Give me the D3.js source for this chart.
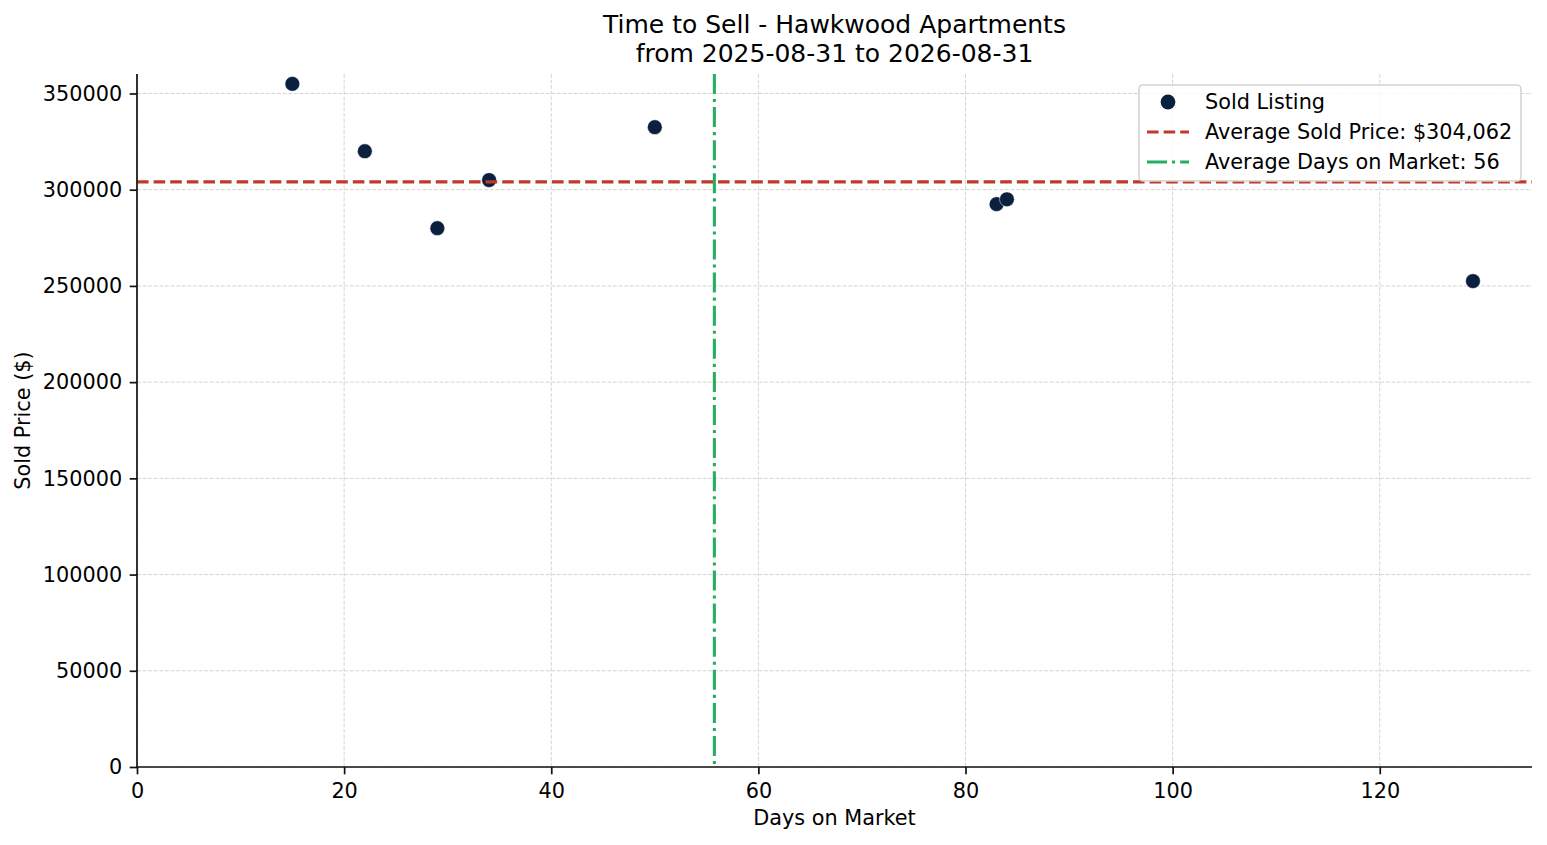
<!DOCTYPE html>
<html>
<head>
<meta charset="utf-8">
<script src="https://cdn.jsdelivr.net/npm/d3@7"></script>
<style>
  body { margin: 0; background: #fff; }
  svg { font-family: "DejaVu Sans", sans-serif; }
</style>
</head>
<body>
<div id="chart"></div>
<script>
// Sold listings: days on market and sold price
const days = [15, 22, 29, 34, 50, 83, 84, 129];
const prices = [355000, 320000, 280000, 305000, 332500, 292500, 295000, 252500];
const xTicks = [0, 20, 40, 60, 80, 100, 120];
const yTicks = [0, 50000, 100000, 150000, 200000, 250000, 300000, 350000];
const titleLines = ["Time to Sell - Hawkwood Apartments", "from 2025-08-31 to 2026-08-31"];

const W = 1547, H = 845;
const margin = { top: 74, right: 15, bottom: 78, left: 137 };
const width = W - margin.left - margin.right;
const height = H - margin.top - margin.bottom;
const fs = 20.8; // 10pt at 150dpi

const avgPrice = d3.mean(prices);
const avgDays = d3.mean(days);

const svg = d3.select("#chart").append("svg")
  .attr("width", W).attr("height", H);

const g = svg.append("g")
  .attr("transform", `translate(${margin.left},${margin.top})`);

const x = d3.scaleLinear()
  .domain([0, 129 + 0.05 * (129 - 15)])
  .range([0, width]);

const y = d3.scaleLinear()
  .domain([0, 355000 + 0.05 * (355000 - 252500)])
  .range([height, 0]);

// grid
g.append("g").selectAll("line").data(xTicks).join("line")
  .attr("x1", d => x(d)).attr("x2", d => x(d))
  .attr("y1", 0).attr("y2", height)
  .attr("stroke", "#d4d4d4").attr("stroke-width", 1)
  .attr("stroke-dasharray", "3.9,1.7");
g.append("g").selectAll("line").data(yTicks).join("line")
  .attr("y1", d => y(d)).attr("y2", d => y(d))
  .attr("x1", 0).attr("x2", width)
  .attr("stroke", "#d4d4d4").attr("stroke-width", 1)
  .attr("stroke-dasharray", "3.9,1.7");

// dots
g.append("g").selectAll("circle").data(days).join("circle")
  .attr("cx", d => x(d))
  .attr("cy", (d, i) => y(prices[i]))
  .attr("r", 7.4)
  .attr("fill", "#0b1f3f")
  .attr("stroke", "#fff").attr("stroke-width", 0.5);

// average lines
const priceDash = "11.6,5";
const daysDash = "20,5,3.1,5";

g.append("line")
  .attr("x1", 0).attr("x2", width)
  .attr("y1", y(avgPrice)).attr("y2", y(avgPrice))
  .attr("stroke", "#c0392b").attr("stroke-width", 3.1)
  .attr("stroke-dasharray", priceDash);

g.append("line")
  .attr("x1", x(avgDays)).attr("x2", x(avgDays))
  .attr("y1", 0).attr("y2", height)
  .attr("stroke", "#27ae60").attr("stroke-width", 3.1)
  .attr("stroke-dasharray", daysDash);

// axes
const xAxis = g.append("g")
  .attr("transform", `translate(0,${height})`)
  .call(d3.axisBottom(x).tickValues(xTicks).tickSize(7.3).tickPadding(8.5).tickFormat(d3.format("d")));
const yAxis = g.append("g")
  .call(d3.axisLeft(y).tickValues(yTicks).tickSize(7.3).tickPadding(7.5).tickFormat(d3.format("d")));

[xAxis, yAxis].forEach(a => {
  a.select(".domain").attr("stroke", "#111").attr("stroke-width", 1.7);
  a.selectAll(".tick line").attr("stroke", "#111").attr("stroke-width", 1.7);
  a.selectAll(".tick text").attr("font-size", fs).attr("fill", "#000")
    .attr("font-family", "DejaVu Sans");
});
xAxis.select(".domain").attr("d", `M0,0H${width}`);
yAxis.select(".domain").attr("d", `M0,${height}V0`);

// labels
g.append("text")
  .attr("x", width / 2).attr("y", height + 58)
  .attr("text-anchor", "middle").attr("font-size", fs)
  .text("Days on Market");

g.append("text")
  .attr("transform", "rotate(-90)")
  .attr("x", -height / 2).attr("y", -107)
  .attr("text-anchor", "middle").attr("font-size", fs)
  .text("Sold Price ($)");

// title
svg.append("g").selectAll("text").data(titleLines).join("text")
  .attr("x", margin.left + width / 2)
  .attr("y", (d, i) => 33 + i * 29)
  .attr("text-anchor", "middle").attr("font-size", 25)
  .text(d => d);

// legend
const lg = g.append("g").attr("transform", `translate(${1139 - margin.left},${85 - margin.top})`);
lg.append("rect")
  .attr("width", 382).attr("height", 96).attr("rx", 4)
  .attr("fill", "#fff").attr("fill-opacity", 0.8)
  .attr("stroke", "#d4d4d4").attr("stroke-width", 1.6);

const legendItems = [
  { label: "Sold Listing", type: "dot" },
  { label: `Average Sold Price: $${d3.format(",")(Math.floor(avgPrice))}`, type: "price" },
  { label: `Average Days on Market: ${Math.round(avgDays)}`, type: "days" }
];

const rows = lg.selectAll("g.row").data(legendItems).join("g")
  .attr("class", "row")
  .attr("transform", (d, i) => `translate(0,${17 + i * 30})`);

rows.each(function (d) {
  const r = d3.select(this);
  if (d.type === "dot") {
    r.append("circle").attr("cx", 29).attr("cy", 0).attr("r", 7.4).attr("fill", "#0b1f3f");
  } else {
    r.append("line").attr("x1", 8).attr("x2", 50).attr("y1", 0).attr("y2", 0)
      .attr("stroke", d.type === "price" ? "#c0392b" : "#27ae60")
      .attr("stroke-width", 3.1)
      .attr("stroke-dasharray", d.type === "price" ? priceDash : daysDash);
  }
  r.append("text").attr("x", 66).attr("y", 7).attr("font-size", fs).text(d.label);
});
</script>
</body>
</html>
